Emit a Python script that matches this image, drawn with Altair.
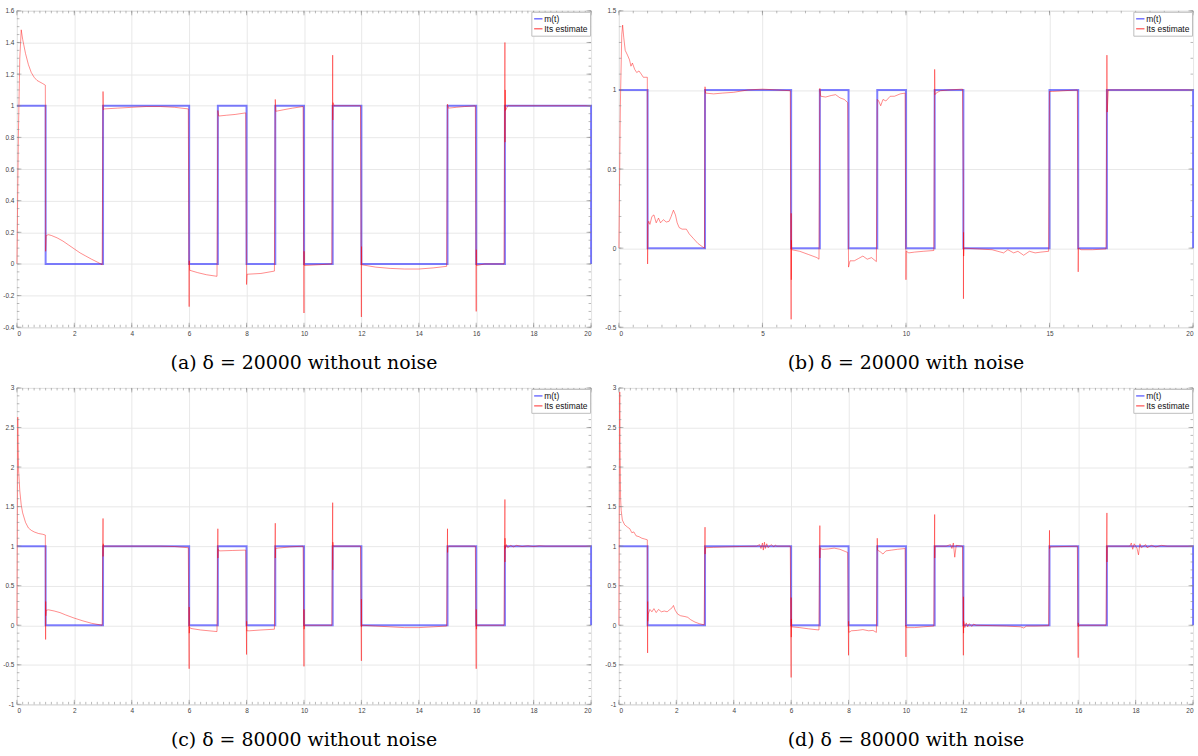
import altair as alt
import pandas as pd

# ---------------- data ----------------
# reference signal m(t)
m_t = [0, 1, 1, 3, 3, 6, 6, 7, 7, 8, 8, 9, 9, 10, 10, 11, 11, 12, 12, 15, 15, 16, 16, 17, 17, 20, 20]
m_v = [1, 1, 0, 0, 1, 1, 0, 0, 1, 1, 0, 0, 1, 1, 0, 0, 1, 1, 0, 0, 1, 1, 0, 0, 1, 1, 0]

# (a) delta = 20000 without noise
a_t = [0, 0.05, 0.1, 0.15, 0.2, 0.3, 0.4, 0.5, 0.6, 0.7, 0.8, 0.9, 0.99,
       1.0, 1.02, 1.1, 1.2, 1.4, 1.6, 1.8, 2.0, 2.2, 2.4, 2.6, 2.8, 2.97,
       3.0, 3.01, 3.05, 3.5, 4.0, 4.5, 5.0, 5.5, 5.97,
       6.0, 6.005, 6.02, 6.3, 6.6, 6.97,
       7.0, 7.03, 7.3, 7.6, 7.97,
       8.0, 8.02, 8.5, 8.97,
       9.0, 9.02, 9.3, 9.6, 9.97,
       10.0, 10.005, 10.01, 10.5, 10.97,
       11.0, 11.005, 11.01, 11.05, 11.97,
       12.0, 12.005, 12.01, 12.5, 13.0, 13.5, 14.0, 14.5, 14.97,
       15.0, 15.03, 15.3, 15.6, 15.97,
       16.0, 16.005, 16.01, 16.3, 16.97,
       17.0, 17.005, 17.01, 17.02, 17.1, 20.0]
a_v = [0, 0.8, 1.3, 1.48, 1.42, 1.33, 1.26, 1.21, 1.18, 1.16, 1.15, 1.14, 1.13,
       0.08, 0.18, 0.185, 0.18, 0.165, 0.145, 0.12, 0.095, 0.07, 0.05, 0.03, 0.012, -0.005,
       1.09, 0.975, 0.98, 0.985, 0.99, 0.995, 0.995, 0.99, 0.98,
       -0.27, 0.02, -0.04, -0.055, -0.068, -0.078,
       0.97, 0.935, 0.94, 0.945, 0.955,
       -0.13, -0.065, -0.06, -0.045,
       1.04, 0.965, 0.975, 0.985, 0.995,
       -0.31, 0.08, -0.01, -0.005, 0.0,
       1.32, 0.91, 1.02, 1.0, 1.0,
       -0.335, 0.11, -0.005, -0.02, -0.028, -0.032, -0.032, -0.025, -0.015,
       1.01, 0.985, 0.99, 0.995, 1.0,
       -0.3, 0.09, -0.01, 0.0, 0.0,
       1.40, 0.77, 1.1, 0.97, 1.0, 1.0]

# (b) delta = 20000 with noise
b_t = [0, 0.05, 0.1, 0.13, 0.17, 0.22, 0.3, 0.37, 0.42, 0.47, 0.55, 0.62, 0.7, 0.78, 0.85, 0.99,
       1.0, 1.01, 1.04, 1.08, 1.15, 1.22, 1.3, 1.38, 1.45, 1.55, 1.65, 1.75, 1.82, 1.9, 1.97,
       2.03, 2.1, 2.2, 2.35, 2.45, 2.6, 2.75, 2.9, 2.98,
       3.0, 3.02, 3.3, 3.6, 4.0, 4.5, 5.0, 5.5, 5.97,
       6.0, 6.003, 6.006, 6.01, 6.02, 6.3, 6.6, 6.9, 6.97,
       7.0, 7.03, 7.2, 7.4, 7.55, 7.7, 7.85, 7.97,
       8.0, 8.05, 8.2, 8.35, 8.5, 8.65, 8.8, 8.97,
       9.0, 9.05, 9.12, 9.2, 9.3, 9.45, 9.6, 9.8, 9.97,
       10.0, 10.01, 10.1, 10.3, 10.6, 10.97,
       11.0, 11.01, 11.05, 11.2, 11.5, 11.97,
       12.0, 12.003, 12.006, 12.01, 12.02, 12.5, 13.0, 13.2, 13.4, 13.55, 13.75, 13.9,
       14.1, 14.3, 14.5, 14.7, 14.97,
       15.0, 15.1, 15.5, 15.97,
       16.0, 16.01, 16.1, 16.5, 16.97,
       17.0, 17.01, 17.05, 20.0]
b_v = [0, 0.9, 1.35, 1.41, 1.33, 1.25, 1.22, 1.19, 1.15, 1.17, 1.13, 1.11, 1.12, 1.1, 1.08, 1.08,
       -0.1, 0.15, 0.17, 0.15, 0.2, 0.21, 0.16, 0.19, 0.16, 0.18, 0.165, 0.17, 0.2, 0.24, 0.21,
       0.16, 0.13, 0.12, 0.12, 0.09, 0.06, 0.03, 0.01, 0.0,
       1.02, 0.98, 0.975, 0.98, 0.985, 1.0, 1.005, 1.0, 0.995,
       -0.45, 0.22, -0.2, 0.05, -0.01, -0.02, -0.04, -0.06, -0.07,
       1.01, 0.96, 0.955, 0.965, 0.97, 0.95, 0.94, 0.92,
       -0.12, -0.08, -0.08, -0.065, -0.05, -0.07, -0.06, -0.085,
       0.94, 0.93, 0.9, 0.94, 0.93, 0.96, 0.96, 0.975, 0.98,
       -0.2, -0.02, -0.03, -0.025, -0.02, -0.015,
       1.13, 0.97, 0.98, 0.995, 1.0, 1.005,
       0.41, -0.32, 0.1, -0.05, 0.0, -0.005, -0.01, -0.02, -0.03, -0.01, -0.03, -0.02,
       -0.045, -0.02, -0.03, -0.025, -0.02,
       0.99, 0.99, 0.995, 1.0,
       -0.15, 0.0, -0.01, -0.01, -0.005,
       1.22, 0.86, 1.0, 1.0]

# (c) delta = 80000 without noise
c_t = [0, 0.02, 0.03, 0.04, 0.06, 0.1, 0.15, 0.2, 0.3, 0.4, 0.5, 0.6, 0.75, 0.9, 0.99,
       1.0, 1.003, 1.006, 1.02, 1.1, 1.3, 1.5, 1.7, 2.0, 2.3, 2.6, 2.97,
       3.0, 3.003, 3.006, 3.02, 4.0, 5.0, 5.5, 5.97,
       6.0, 6.003, 6.006, 6.01, 6.05, 6.4, 6.97,
       7.0, 7.003, 7.01, 7.05, 7.5, 7.97,
       8.0, 8.003, 8.01, 8.1, 8.5, 8.97,
       9.0, 9.003, 9.01, 9.1, 9.5, 9.97,
       10.0, 10.003, 10.006, 10.02, 10.97,
       11.0, 11.003, 11.006, 11.02, 11.97,
       12.0, 12.003, 12.006, 12.02, 12.5, 13.0, 13.5, 14.0, 14.5, 14.97,
       15.0, 15.003, 15.01, 15.05, 15.97,
       16.0, 16.003, 16.006, 16.02, 16.97,
       17.0, 17.003, 17.006, 17.01, 17.05, 17.1, 17.2, 17.3, 17.4, 17.6, 17.8, 18.0, 18.2, 18.4, 20.0]
c_v = [0, 2.0, 2.63, 2.3, 1.95, 1.7, 1.52, 1.42, 1.3, 1.23, 1.2, 1.18, 1.16, 1.15, 1.14,
       -0.18, 0.3, 0.12, 0.19, 0.195, 0.18, 0.16, 0.13, 0.09, 0.055, 0.025, 0.0,
       1.35, 0.87, 1.03, 1.0, 1.0, 1.0, 0.995, 0.98,
       -0.55, 0.23, -0.1, -0.02, -0.04, -0.06, -0.08,
       1.22, 0.85, 0.96, 0.94, 0.945, 0.95,
       -0.37, 0.05, -0.07, -0.07, -0.06, -0.05,
       1.29, 0.85, 0.97, 0.975, 0.99, 1.0,
       -0.52, 0.2, -0.05, 0.0, 0.0,
       1.55, 0.7, 1.05, 1.0, 1.0,
       -0.45, 0.33, -0.02, 0.0, -0.01, -0.02, -0.03, -0.03, -0.02, -0.01,
       1.22, 0.92, 0.98, 1.0, 1.0,
       -0.55, 0.2, -0.05, 0.0, 0.0,
       1.59, 0.8, 1.1, 0.97, 1.02, 0.98, 1.01, 0.99, 1.01, 0.995, 1.005, 0.995, 1.005, 1.0, 1.0]

# (d) delta = 80000 with noise
d_t = [0, 0.02, 0.03, 0.04, 0.06, 0.08, 0.12, 0.2, 0.3, 0.38, 0.45, 0.52, 0.6, 0.7, 0.8, 0.9, 0.99,
       1.0, 1.003, 1.006, 1.02, 1.08, 1.15, 1.22, 1.3, 1.38, 1.48, 1.58, 1.68, 1.78, 1.85, 1.9, 1.96,
       2.05, 2.15, 2.3, 2.4, 2.5, 2.65, 2.8, 2.97,
       3.0, 3.003, 3.01, 3.3, 3.7, 4.2, 4.8, 4.9, 4.95, 5.0, 5.03, 5.07, 5.1, 5.15, 5.2, 5.3, 5.4, 5.45, 5.5, 5.97,
       6.0, 6.003, 6.006, 6.01, 6.02, 6.3, 6.6, 6.97,
       7.0, 7.003, 7.01, 7.1, 7.3, 7.5, 7.7, 7.9, 7.97,
       8.0, 8.003, 8.01, 8.1, 8.3, 8.5, 8.7, 8.85, 8.97,
       9.0, 9.01, 9.1, 9.2, 9.3, 9.5, 9.7, 9.97,
       10.0, 10.003, 10.01, 10.3, 10.6, 10.97,
       11.0, 11.003, 11.01, 11.4, 11.55, 11.6, 11.65, 11.7, 11.75, 11.97,
       12.0, 12.003, 12.006, 12.01, 12.05, 12.1, 12.15, 12.2, 12.3, 12.35, 12.45, 13.0, 13.5, 14.0, 14.1, 14.2, 14.5, 14.97,
       15.0, 15.003, 15.02, 15.97,
       16.0, 16.003, 16.01, 16.05, 16.97,
       17.0, 17.003, 17.01, 17.8, 17.85, 17.9, 17.95, 18.05, 18.1, 18.15, 18.2, 18.35, 18.4, 18.55, 18.7, 18.9, 19.1, 20.0]
d_v = [0, 2.2, 2.95, 2.3, 1.6, 1.45, 1.33, 1.27, 1.24, 1.22, 1.17, 1.18, 1.13, 1.12, 1.1, 1.09, 1.08,
       -0.35, 0.3, 0.05, 0.14, 0.2, 0.17, 0.21, 0.16, 0.2, 0.17, 0.18, 0.17, 0.2, 0.22, 0.25, 0.19,
       0.14, 0.12, 0.11, 0.1, 0.07, 0.04, 0.02, 0.005,
       1.24, 0.9, 0.98, 0.985, 0.99, 0.995, 1.0, 1.02, 0.97, 1.04, 0.95, 1.05, 0.97, 1.03, 0.98, 1.02, 0.99, 1.015, 1.0, 1.0,
       -0.66, 0.35, -0.15, 0.08, -0.02, -0.03, -0.045, -0.06,
       1.26, 0.85, 0.97, 0.96, 0.965, 0.975, 0.96, 0.93, 0.92,
       -0.38, 0.05, -0.09, -0.07, -0.065, -0.055, -0.07, -0.065, -0.09,
       1.1, 0.95, 0.93, 0.9, 0.94, 0.95, 0.96, 0.97,
       -0.4, 0.0, -0.03, -0.03, -0.02, -0.01,
       1.4, 0.85, 1.0, 1.0, 1.02, 0.97, 1.04, 0.86, 1.01, 1.0,
       -0.38, 0.36, -0.1, 0.05, -0.03, 0.03, -0.02, 0.02, -0.015, 0.015, 0.0, -0.005, -0.01, -0.02, -0.035, -0.01, -0.01, -0.005,
       1.2, 0.97, 0.99, 1.0,
       -0.41, 0.03, -0.02, 0.0, 0.0,
       1.42, 0.8, 1.0, 1.0, 1.04, 0.96, 1.03, 0.97, 0.89, 1.03, 0.98, 1.02, 0.98, 1.01, 0.99, 1.01, 1.0, 1.0]

captions = ["(a) δ = 20000 without noise", "(b) δ = 20000 with noise",
            "(c) δ = 80000 without noise", "(d) δ = 80000 with noise"]

x_major_2 = [0, 2, 4, 6, 8, 10, 12, 14, 16, 18, 20]
x_major_5 = [0, 5, 10, 15, 20]
y_major_a = [-0.4, -0.2, 0, 0.2, 0.4, 0.6, 0.8, 1, 1.2, 1.4, 1.6]
y_major_b = [-0.5, 0, 0.5, 1, 1.5]
y_major_cd = [-1, -0.5, 0, 0.5, 1, 1.5, 2, 2.5, 3]

SERIES = ["m(t)", "Its estimate"]
W, H = 577, 318
LABEL_FONT = "Liberation Sans"


def minor(lo, hi, step):
    n = int(round((hi - lo) / step))
    return [round(lo + k * step, 4) for k in range(n + 1)]


def panel(est_t, est_v, ydom, ymajor, ystep, xmajor, xstep, caption):
    blue = pd.DataFrame({"t": m_t, "v": m_v, "s": "m(t)", "i": list(range(len(m_t)))})
    red = pd.DataFrame({"t": est_t, "v": est_v, "s": "Its estimate", "i": list(range(len(est_t)))})

    xs = alt.Scale(domain=[0, 20], nice=False, zero=False)
    ys = alt.Scale(domain=ydom, nice=False, zero=False)
    xaxis = alt.Axis(values=xmajor, title=None, grid=True, gridColor="#e8e8e8", ticks=False,
                     domain=False, labelFont=LABEL_FONT, labelFontSize=6.5, labelColor="#444444",
                     labelPadding=3, labelExpr="datum.value + ''")
    yaxis = alt.Axis(values=ymajor, title=None, grid=True, gridColor="#e8e8e8", ticks=False,
                     domain=False, labelFont=LABEL_FONT, labelFontSize=6.5, labelColor="#444444",
                     labelPadding=3, labelExpr="datum.value + ''")
    legend = alt.Legend(title=None, orient="top-right", offset=1, fillColor="white",
                        strokeColor="#bdbdbd", padding=2, labelFont=LABEL_FONT, labelFontSize=8.5,
                        labelColor="#111111", symbolType="stroke", symbolStrokeWidth=1.5,
                        symbolSize=70, rowPadding=0, labelOffset=1, symbolOpacity=0.55)
    color = alt.Color("s:N", scale=alt.Scale(domain=SERIES, range=["#0000ff", "#ff0000"]), legend=legend)

    X = alt.X("t:Q", scale=xs, axis=xaxis)
    Y = alt.Y("v:Q", scale=ys, axis=yaxis)

    blue_line = alt.Chart(blue).mark_line(strokeWidth=2, opacity=0.5).encode(
        x=X, y=Y, order=alt.Order("i:Q"), color=color)
    red_line = alt.Chart(red).mark_line(strokeWidth=0.9, opacity=0.5).encode(
        x=X, y=Y, order=alt.Order("i:Q"), color=color)

    # tick marks on the four sides of the box (major longer, minor shorter)
    xmin = pd.DataFrame({"t": minor(0, 20, xstep)})
    xmaj = pd.DataFrame({"t": xmajor})
    ymin = pd.DataFrame({"v": minor(ydom[0], ydom[1], ystep)})
    ymaj = pd.DataFrame({"v": ymajor})
    tc = "#8a8a8a"
    layers = [blue_line, red_line]
    for df, ln in ((xmin, 2.5), (xmaj, 4.5)):
        base = alt.Chart(df).mark_rule(color=tc, strokeWidth=0.6)
        layers.append(base.encode(x=X, y=alt.value(0), y2=alt.value(ln)))
        layers.append(base.encode(x=X, y=alt.value(H - ln), y2=alt.value(H)))
    for df, ln in ((ymin, 2.5), (ymaj, 4.5)):
        base = alt.Chart(df).mark_rule(color=tc, strokeWidth=0.6)
        layers.append(base.encode(y=Y, x=alt.value(0), x2=alt.value(ln)))
        layers.append(base.encode(y=Y, x=alt.value(W - ln), x2=alt.value(W)))

    return alt.layer(*layers).properties(
        width=W, height=H,
        title=alt.TitleParams(caption, orient="bottom", anchor="middle", font="DejaVu Serif",
                              fontSize=19, fontWeight="normal", color="#000000", offset=17))


pa = panel(a_t, a_v, [-0.4, 1.6], y_major_a, 0.05, x_major_2, 0.2, captions[0])
pb = panel(b_t, b_v, [-0.5, 1.5], y_major_b, 0.1, x_major_5, 0.5, captions[1])
pc = panel(c_t, c_v, [-1, 3], y_major_cd, 0.1, x_major_2, 0.2, captions[2])
pd_ = panel(d_t, d_v, [-1, 3], y_major_cd, 0.1, x_major_2, 0.2, captions[3])

row1 = alt.hconcat(pa, pb, spacing=8).resolve_scale(color="independent").resolve_legend(color="independent")
row2 = alt.hconcat(pc, pd_, spacing=8).resolve_scale(color="independent").resolve_legend(color="independent")

chart = alt.vconcat(row1, row2, spacing=11).resolve_scale(
    color="independent").resolve_legend(color="independent").properties(
    padding={"left": 2, "top": 5, "right": 0, "bottom": 0},
    background="white",
).configure_view(stroke="#c4c4c4", strokeWidth=1)

chart.save("out.html", embed_options={"renderer": "svg", "actions": False})
